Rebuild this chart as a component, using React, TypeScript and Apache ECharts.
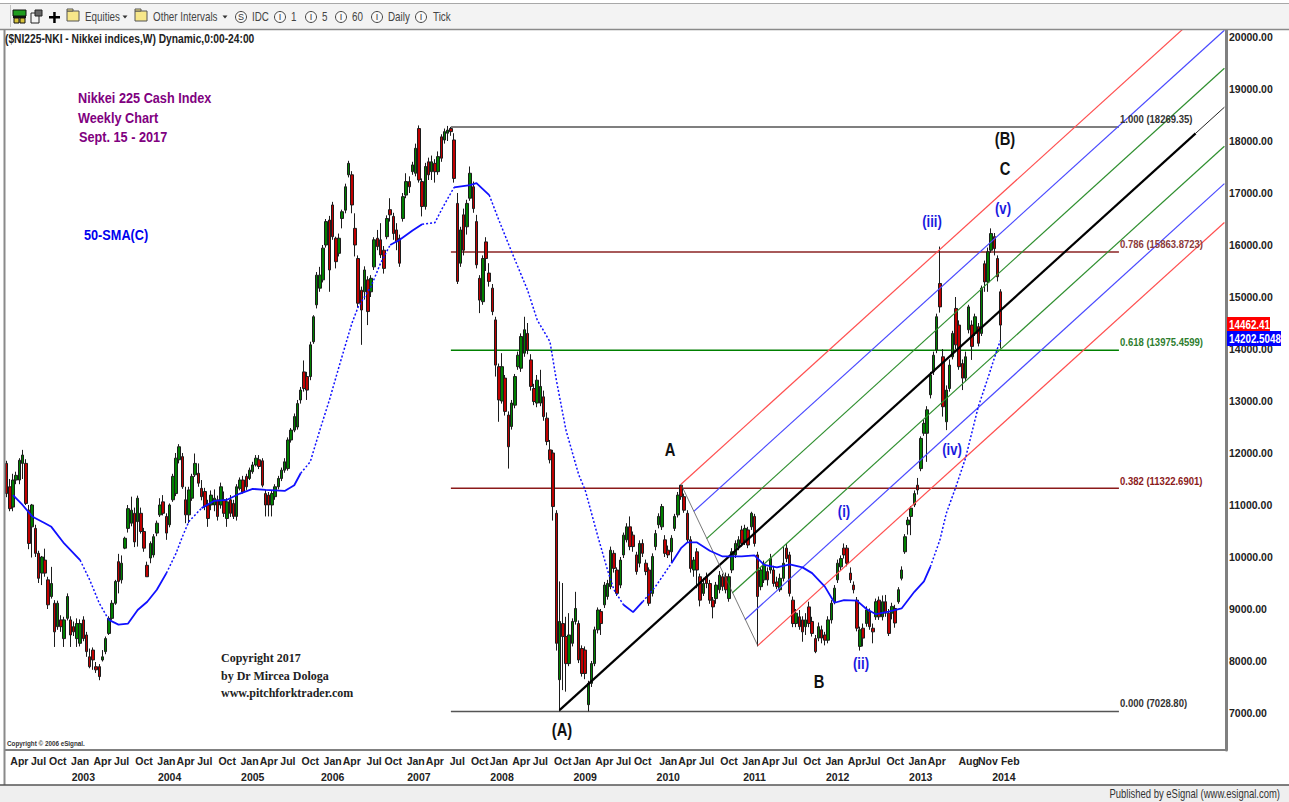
import React, { useEffect, useRef } from "react";
import * as echarts from "echarts";

const SANS = '"Liberation Sans", Arial, sans-serif';
const SERIF = '"Liberation Serif", serif';

// [open, close, low, high], one row per ten bars
const bars2002 = [
  [11800,11220,11150,11850],[11350,10930,10880,11500],[10960,11480,10880,11600],[11480,11570,11400,11640],[11480,11860,11400,11900],[11800,11960,11500,12060],[11800,11030,11000,11880],[10900,10260,10150,11000],[10580,11000,9990,11020],[10550,10070,10000,10620],
  [10070,9590,9500,10120],[9690,10000,9460,10020],[9940,9690,9620,10160],[9560,9080,9000,9620],[9240,9490,9200,9810],[9110,8560,8270,9170],[8660,9110,8600,9160],[8790,8660,8560,8880],[8430,8790,8270,8850],[8820,9240,8780,9300],
  [8790,8500,8270,8860],[8660,8560,8480,8760],[8430,8720,8270,8820],[8340,8720,8280,8800],[8790,8430,8380,8860],[8500,8180,8080,8560],[8080,7890,7860,8240],[8210,8020,7830,8260],[7890,7830,7770,7980],[7890,7700,7630,7940],
];
const bars2003 = [
  [8020,8080,7990,8210],[8180,8430,8130,8470],[8530,8820,8500,8860],[8820,9110,8790,9170],[9110,9530,9080,9560],[9910,9530,9300,10060],[9560,9880,9490,10030],[10170,10360,10150,10390],[10550,10930,10470,11000],[10650,10900,10590,11160],
  [10840,10290,10190,10950],[10680,11130,10200,11180],[10840,10490,10450,10950],[10490,10170,10100,10560],[9840,9620,9620,9910],[9980,10260,9880,10300],[10040,10390,9990,10440],[10460,10650,10400,10700],[10810,11000,10770,11130],[11060,10840,10800,11190],
];
const bars2004 = [
  [10780,10460,10330,10840],[10620,11000,10570,11030],[11100,11550,11060,11600],[11220,11900,11170,12000],[11870,12120,11800,12170],[11930,11350,11310,12000],[11100,10810,10650,11350],[10810,11290,10650,11350],[11130,11550,11080,11600],[11580,11800,11540,11990],
  [11610,11420,11350,11800],[11320,11160,11090,11480],[11260,10970,10900,11330],[11000,10740,10580,11100],[11000,11190,10900,11280],[11000,11130,10880,11300],[11100,10780,10700,11180],[11000,11350,10930,11430],[11100,10840,10770,11260],[10740,11060,10580,11130],
  [11100,10840,10770,11190],[11030,10780,10730,11100],[10780,11350,10700,11400],[11320,11480,11280,11530],[11480,11250,11220,11560],[11550,11350,11290,11600],[11510,11670,11480,11720],[11640,11770,11600,11830],[11770,11900,11740,11960],[11870,11740,11690,11960],
];
const bars2005 = [
  [11850,11380,11340,11900],[11220,11000,10780,11290],[11190,11000,10780,11250],[11000,11220,10780,11280],[11160,11350,11100,11400],[11350,11510,11300,11560],[11510,11670,11460,11720],[11670,11830,11620,11900],[11700,12250,11660,12300],[12250,12440,12200,12480],
  [12440,12700,12400,12760],[12500,12950,12450,13020],[13020,13210,12950,13270],[13560,13240,13180,13780],[13470,13210,13020,13560],[13470,14080,13400,14140],[14140,14620,14100,14650],[14850,15420,14780,15480],[15170,15420,15100,15580],[15330,15940,15280,16000],
  [16000,16450,15950,16500],[16480,15520,15100,16560],[16770,16160,16100,16830],[16130,15680,15550,16160],[15840,16130,15780,16220],[16510,16640,16320,16680],[16670,17120,16610,17180],[17350,17570,17300,17620],[17350,16770,16610,17420],[16320,16000,15780,16610],
];
const bars2006 = [
  [15740,14880,14800,15800],[15130,14750,14080,15200],[15100,15520,14950,15590],[15330,14720,14460,15400],[15100,15360,15000,15420],[15580,16100,15520,16150],[16130,15970,15900,16290],[16100,15810,15750,16420],[15900,15550,15450,15980],[16160,16510,16110,16570],
  [16680,16580,16450,16900],[16550,16220,16100,16620],[16290,16060,15900,16420],[16130,15650,15580,16200],[16510,16930,16450,17000],[16960,17220,16900,17380],[17220,17120,17000,17320],[17410,17540,17350,17600],[17380,17860,17320,17950],[18240,17250,17200,18300],
];
const bars2007 = [
  [17220,16740,16550,17280],[16740,17510,16680,17580],[17600,17350,17250,17680],[17410,17600,17250,17720],[17570,17410,17200,17650],[17410,17700,17350,17800],[18080,17670,17600,18130],[18020,18180,17950,18240],[18150,18210,18000,18290],[18240,18180,18100,18270],
  [18020,17280,17200,18150],[16800,15300,15250,17000],[15650,16290,15580,16350],[16580,15900,15800,16700],[16350,16800,16200,16870],[16900,17380,16850,17510],[17120,16700,16620,17220],[16450,15620,15550,16580],[15360,14940,14690,15420],[14910,15740,14850,15800],
];
const bars2008 = [
  [16060,15740,15500,16150],[15460,15300,15200,15650],[15170,14720,14650,15250],[14560,13690,13470,14620],[13660,13020,12600,13720],[13000,13660,12950,13920],[13440,12800,12720,13500],[12730,12120,11700,12800],[12510,12960,12450,13020],[12920,13470,12860,13520],
  [13660,13880,13600,13950],[13630,14240,13560,14300],[13920,14370,13850,14620],[14300,13980,13900,14500],[13790,13280,13200,13900],[13240,12990,12920,13330],[12960,13400,12880,13500],[12960,13280,12900,13600],[13080,12700,12620,13200],[12670,12220,12150,12780],
  [12060,11870,11800,12250],[12000,10970,10700,12060],[10840,8340,8200,10900],[7640,8760,7030,9530],[8720,8470,7440,9500],[8470,7950,7410,8850],[7950,8500,7900,8920],[8340,8760,8280,8820],[8760,9010,8700,9330],[8720,8020,7960,8780],
];
const bars2009 = [
  [8240,7760,7700,8300],[8210,7760,7650,8280],[7160,7570,7030,7620],[7570,7950,7500,8000],[7950,8600,7900,8660],[8600,8980,8530,9030],[8950,8720,8500,9000],[9080,9460,9020,9520],[9240,9490,9180,9560],[9430,10130,9380,10200],
  [10070,9780,9700,10130],[9750,9300,9250,9800],[9460,9940,9400,10000],[10040,10420,9980,10470],[10330,10580,10280,10650],[10580,10200,10130,10780],[10420,10200,10100,10490],[10040,9720,9660,10100],[9880,10260,9800,10320],[10260,10070,10000,10340],
  [9880,9720,9650,9950],[9750,9110,9060,9800],[9300,10010,9240,10070],[10200,10450,10130,10520],[10620,10780,10550,10840],[10580,10970,10520,11020],[10330,10070,10000,10420],[10130,10040,9980,10220],[10100,10360,9900,10420],[10550,10780,10500,10830],
];
const bars2010 = [
  [10810,11190,10760,11250],[11380,11160,11100,11390],[11160,10900,10850,11220],[10840,10330,10270,10900],[10330,9780,9700,10400],[9750,9940,9620,10000],[10100,9750,9400,10170],[9620,9170,9050,9680],[9300,9490,9250,9600],[9620,9490,9400,9700],
  [9490,9170,9100,9560],[9170,9040,8820,9230],[9200,9460,9100,9520],[9370,9650,9300,9730],[9620,9430,9350,9680],[9620,9370,9300,9700],[9200,9620,9140,9680],[9750,10100,9690,10170],[10040,10260,9980,10320],[10200,10330,10130,10400],
];
const bars2011 = [
  [10520,10260,10200,10600],[10330,10550,10230,10620],[10520,10230,10170,10580],[10580,10840,10520,10870],[10780,10260,10200,10830],[10040,9240,8280,10100],[9430,9750,9360,9800],[9560,9850,9500,9930],[9720,9560,9450,9800],[9750,9970,9680,10060],
  [9750,9490,9430,9830],[9520,9430,9380,9620],[9370,9590,9330,9680],[9590,9880,9530,10200],[10170,9970,9900,10260],[10040,9300,9240,10100],[9170,8720,8650,9240],[8720,8920,8650,9000],[8850,8660,8600,8980],[8790,8560,8370,8860],
  [8660,8790,8500,8920],[9040,8720,8650,9140],[8760,8530,8470,8850],[8430,8180,8150,8500],[8440,8660,8380,8740],[8600,8440,8340,8680],[8500,8400,8300,8560],[8400,8790,8340,8860],[8790,9110,8720,9170],[9140,9400,9090,9460],
];
const bars2012 = [
  [9560,9880,9500,9950],[9810,9970,9750,10030],[10170,10040,9970,10260],[10170,9880,9820,10230],[9690,9560,9500,9800],[9460,9370,9300,9530],[9170,8630,8570,9230],[8280,8600,8200,8660],[8630,8440,8280,8720],[8720,8980,8660,9050],
  [8950,8660,8600,9010],[8630,8560,8340,8720],[8850,9140,8790,9200],[9170,8850,8790,9240],[8850,9140,8780,9260],[9140,8920,8850,9270],[8920,8530,8480,9000],[8920,9050,8800,9120],[9010,8730,8640,9080],[9140,9370,9100,9420],
  [9590,9750,9550,9820],[10100,10390,10060,10440],[10620,10710,10430,10770],[10780,10940,10420,10980],[11000,11220,10960,11280],
];
const bars2013 = [
  [11380,11290,11200,11520],[11700,12280,11650,12320],[12380,12570,12330,12640],[12380,12830,11830,12900],[13120,13500,13050,13560],[13560,13880,13500,13950],[13980,14620,13920,14680],[15260,14810,14700,15970],[13850,12890,12700,14000],[12600,13210,12440,13300],
  [13240,13690,13180,13800],[13850,14300,13800,14350],[14780,14080,14000,15000],[14460,13660,13600,14550],[13720,13440,13210,13800],[13440,13850,13380,13950],[14370,14810,14300,14850],[14460,14050,13790,14550],[14300,14620,14250,14680],[14430,14110,14050,14500],
  [14300,15170,14250,15220],[15640,15290,15100,15700],[15290,15870,15100,15950],[15900,16220,15850,16320],[16160,15930,15800,16230],[15740,15390,15300,15800],[15100,14460,14010,15150],
];
const bars = [...bars2002, ...bars2003, ...bars2004, ...bars2005, ...bars2006, ...bars2007, ...bars2008, ...bars2009, ...bars2010, ...bars2011, ...bars2012, ...bars2013];

// 50-period moving average, read at its visible vertices
const smaBar = [2,5,8,12,14,18,23,26,29,32, 35,38,41,44,47,50,53,55,57,61, 65,69,73,77,81,87,90,92,95,98, 101,104,108,110,114,117,120,123,127,130, 134,136,140,145,147,151,154,158,163,166, 170,172,175,179,181,185,188,190,193,196, 199,203,208,211,213,216,220,224,230,234, 237,241,245,249,252,256,259,262,266,269, 272,276,280,284,287,289,292,294,297,300, 304,307,310,311];
const smaValue = [11190,11000,10780,10650,10580,10260,9940,9560,9110,8790, 8700,8720,8980,9140,9370,9690,10070,10390,10680,10940, 11080,11100,11220,11310,11290,11270,11380,11610,11830,12440, 13020,13660,14490,14810,15200,15650,16000,16100,16280,16400, 16430,16670,17110,17150,17190,16960,16480,15870,15130,14560, 14140,13400,12440,11580,11290,10390,9750,9370,9080,8940, 9140,9430,9880,10170,10280,10280,10120,10010,10010,10030, 9850,9800,9860,9800,9690,9430,9120,9170,9160,9000, 8900,8950,9010,9330,9530,9810,10330,10840,11350,11900, 12890,13440,14010,14170];
const smaRuns: [number, number, string][] = [[2,23,"solid"],[23,32,"dotted"],[32,50,"solid"],[50,61,"dotted"],[61,92,"solid"],[92,120,"dotted"],[120,130,"solid"],[130,140,"dotted"],[140,151,"solid"],[151,193,"dotted"],[193,199,"solid"],[199,208,"dotted"],[208,289,"solid"],[289,311,"dotted"]];

const slotCount = 382;
const firstBarDate = Date.UTC(2002, 1, 11);
const categories = Array.from({ length: slotCount }, (_, i) => new Date(firstBarDate + i * 14 * 86400000).toISOString().slice(0, 10));

const monthBars = [4,10,16, 23,30,36,43, 50,56,62,69, 76,82,88,95, 102,108,115,121, 128,134,141,148, 154,161,167,174, 180,187,193,199, 207,213,219,226, 233,239,245,252, 259,266,271,278, 285,291,301,307,314];
const monthNames = ["Apr","Jul","Oct", "Jan","Apr","Jul","Oct", "Jan","Apr","Jul","Oct", "Jan","Apr","Jul","Oct", "Jan","Apr","Jul","Oct", "Jan","Apr","Jul","Oct", "Jan","Apr","Jul","Oct", "Jan","Apr","Jul","Oct", "Jan","Apr","Jul","Oct", "Jan","Apr","Jul","Oct", "Jan","Apr","Jul","Oct", "Jan","Apr","Aug","Nov","Feb"];
const yearBars = [24,51,77,102,129,155,181,207,234,260,286,312];
const yearNames = ["2003","2004","2005","2006","2007","2008","2009","2010","2011","2012","2013","2014"];
const priceTicks = [7000,8000,9000,10000,11000,12000,13000,14000,15000,16000,17000,18000,19000,20000];

// Fibonacci retracement levels
const fibRatios = ["1.000","0.786","0.618","0.382","0.000"];
const fibLevels = [18269.35,15863.8723,13975.4599,11322.6901,7028.8];
const fibValueText = ["18269.35","15863.8723","13975.4599","11322.6901","7028.80"];
const fibLine = ["#7f7f7f","#a85a5a","#008000","#8b1a1a","#555555"];
const fibText = ["#333333","#8b3a3a","#2e7d2e","#8b1a1a","#333333"];
const fibWidth = [2,2,1.5,1.5,1.5];
const fibLabelY = [119,244,342,481,703];
const fibFromBar = 139;
const fibToBar = 348;

// Andrews pitchfork tines: [bar, value, bar, value]
const forkTines = [
  { name: "upper warning", seg: [211,11398,381,20877], color: "#ff5050", width: 1.2 },
  { name: "upper 2", seg: [215,10877,381,20129], color: "#4a4aff", width: 1.2 },
  { name: "upper 1", seg: [219,10354,381,19400], color: "#2f8f2f", width: 1.2 },
  { name: "median", seg: [173,7055,372,18148], color: "#000000", width: 2.2 },
  { name: "median ext", seg: [372,18148,381,18650], color: "#222222", width: 1 },
  { name: "lower 1", seg: [227,9308,381,17900], color: "#2f8f2f", width: 1.2 },
  { name: "lower 2", seg: [231,8794,381,17180], color: "#4a4aff", width: 1.2 },
  { name: "lower warning", seg: [235,8296,381,16434], color: "#ff5050", width: 1.2 },
  { name: "handle", seg: [211,11398,235,8296], color: "#555555", width: 0.8 },
];

const lastClose = "14462.41";
const lastSma = "14202.5048";

function txt(text: string, x: number, y: number, o: any = {}) {
  const sx = o.scale ?? (o.font === SERIF ? 1 : 0.82);
  return {
    type: "text", x, y, z: o.z ?? 50, silent: true, scaleX: sx,
    style: {
      text, fill: o.fill ?? "#222", fontFamily: o.font ?? SANS, fontSize: o.size ?? 12,
      fontWeight: o.weight ?? "normal", align: o.align ?? "left", verticalAlign: "middle",
    },
  };
}
const box = (x: number, y: number, w: number, h: number, fill: string, stroke?: string, z = 40) => ({
  type: "rect", z, silent: true, shape: { x, y, width: w, height: h },
  style: { fill, stroke: stroke ?? undefined, lineWidth: stroke ? 1 : 0 },
});
const ln = (x1: number, y1: number, x2: number, y2: number, stroke: string, lineWidth = 1, z = 41) => ({
  type: "line", z, silent: true, shape: { x1, y1, x2, y2 }, style: { stroke, lineWidth },
});
const folder = (x: number) => [box(x, 11, 12, 10, "#f7e78a", "#555"), box(x, 9, 6, 2, "#f7e78a", "#555")];
const ring = (cx: number, letter: string) => [
  { type: "circle", z: 41, silent: true, shape: { cx, cy: 17, r: 5.5 }, style: { fill: "#fafafa", stroke: "#444", lineWidth: 1 } },
  txt(letter, cx, 17, { size: 9, align: "center", fill: "#333", scale: 1 }),
];
const caret = (cx: number) => ({ type: "polygon", z: 41, silent: true, shape: { points: [[cx - 2.5, 15.5], [cx + 2.5, 15.5], [cx, 18.5]] }, style: { fill: "#333" } });

const toolbar = [
  box(0, 3, 1289, 26.5, "#f3f3f3"),
  ln(0, 3.5, 1289, 3.5, "#a8a8a8"),
  ln(0, 29.5, 1289, 29.5, "#8a8a8a", 1.5),
  ln(10.5, 5, 10.5, 27, "#c4c4c4"),
  box(13, 10, 13, 6, "#1f9c1f", "#111"),
  box(13, 16, 13, 2, "#111"),
  box(14, 18, 5, 5, "#d6c23a", "#111"),
  box(20, 18, 5, 5, "#d6c23a", "#111"),
  box(31, 13, 8, 10, "#f4f4f4", "#222"),
  box(35, 10, 7, 6, "#666", "#222"),
  box(49, 16, 11, 2.5, "#000"),
  box(53.2, 12, 2.5, 11, "#000"),
  ...folder(67),
  txt("Equities", 85, 17, { size: 12, fill: "#444" }),
  caret(125),
  ...folder(135),
  txt("Other Intervals", 153, 17, { size: 12, fill: "#444" }),
  caret(225),
  ...ring(241, "S"), txt("IDC", 252, 17, { size: 12, fill: "#444" }),
  ...ring(280, "I"), txt("1", 291, 17, { size: 12, fill: "#444" }),
  ...ring(311, "I"), txt("5", 322, 17, { size: 12, fill: "#444" }),
  ...ring(341, "I"), txt("60", 352, 17, { size: 12, fill: "#444" }),
  ...ring(377, "I"), txt("Daily", 388, 17, { size: 12, fill: "#444" }),
  ...ring(421, "I"), txt("Tick", 433, 17, { size: 12, fill: "#444" }),
];

const annotations = [
  txt("($NI225-NKI - Nikkei indices,W) Dynamic,0:00-24:00", 5, 39, { weight: "bold", size: 12.5, fill: "#222" }),
  txt("Nikkei 225 Cash Index", 78, 98, { weight: "bold", size: 15.5, fill: "#800080" }),
  txt("Weekly Chart", 78, 118, { weight: "bold", size: 15.5, fill: "#800080" }),
  txt("Sept. 15 - 2017", 79, 137, { weight: "bold", size: 15.5, fill: "#800080" }),
  txt("50-SMA(C)", 84, 235, { weight: "bold", size: 15.5, fill: "#0000ee" }),
  txt("Copyright 2017", 221, 658, { font: SERIF, weight: "bold", size: 12, fill: "#222" }),
  txt("by Dr Mircea Dologa", 221, 676, { font: SERIF, weight: "bold", size: 12, fill: "#222" }),
  txt("www.pitchforktrader.com", 221, 693, { font: SERIF, weight: "bold", size: 12, fill: "#222" }),
  txt("Copyright © 2006 eSignal.", 7, 743, { size: 8, fill: "#333", weight: "bold", scale: 0.79 }),
  txt("A", 670, 449, { weight: "bold", size: 18, align: "center", fill: "#111" }),
  txt("B", 819, 681, { weight: "bold", size: 18, align: "center", fill: "#111" }),
  txt("C", 1005, 168, { weight: "bold", size: 18, align: "center", fill: "#111" }),
  txt("(A)", 562, 729, { weight: "bold", size: 18, align: "center", fill: "#111" }),
  txt("(B)", 1005, 138, { weight: "bold", size: 18, align: "center", fill: "#111" }),
  txt("(i)", 844, 512, { weight: "bold", size: 16, align: "center", fill: "#1a1ae0" }),
  txt("(ii)", 861, 664, { weight: "bold", size: 16, align: "center", fill: "#1a1ae0" }),
  txt("(iii)", 932, 222, { weight: "bold", size: 16, align: "center", fill: "#1a1ae0" }),
  txt("(iv)", 952, 450, { weight: "bold", size: 16, align: "center", fill: "#1a1ae0" }),
  txt("(v)", 1003, 209, { weight: "bold", size: 16, align: "center", fill: "#1a1ae0" }),
  ...fibRatios.map((r, k) =>
    txt(`${r} (${fibValueText[k]})`, 1120, fibLabelY[k], { weight: "bold", size: 11.6, fill: fibText[k] })),
];

const frame = [
  ln(4.5, 30, 4.5, 785, "#8a8a8a", 2),
  box(0, 785, 1289, 17, "#efefef", undefined, 38),
  ln(0, 785, 1289, 785, "#555555", 1.5),
  txt("Published by eSignal (www.esignal.com)", 1280, 794, { align: "right", size: 12, fill: "#333", scale: 0.79 }),
  box(1227, 317, 43, 15, "#ff0000", undefined, 60),
  txt(lastClose, 1229, 325, { fill: "#fff", weight: "bold", size: 12, z: 61 }),
  box(1227, 331, 54, 15, "#0000ff", undefined, 62),
  txt(lastSma, 1229, 339, { fill: "#fff", weight: "bold", size: 12, z: 63 }),
];

export default function App() {
  const ref = useRef<HTMLDivElement>(null);
  useEffect(() => {
    document.body.style.margin = "0";
    const chart = echarts.init(ref.current!, null, { renderer: "svg" });
    const pts = smaBar.map((b, k) => [b, smaValue[k]]);
    const axisFont = { fontFamily: SANS, fontWeight: "bold" as const, fontSize: 10.5, color: "#222" };
    chart.setOption({
      animation: false,
      backgroundColor: "#ffffff",
      grid: { left: 5, top: 30, width: 1221, height: 720, containLabel: false },
      xAxis: [
        {
          type: "category", data: categories, position: "bottom",
          axisLine: { show: true, onZero: false, lineStyle: { color: "#808080", width: 2 } },
          axisTick: { show: false }, splitLine: { show: false },
          axisLabel: {
            ...axisFont, margin: 5,
            interval: (i: number) => monthBars.includes(i),
            formatter: (_: string, i: number) => monthNames[monthBars.indexOf(i)] ?? "",
          },
        },
        {
          type: "category", data: categories, position: "bottom", offset: 16,
          axisLine: { show: false }, axisTick: { show: false }, splitLine: { show: false },
          axisLabel: {
            ...axisFont, margin: 5,
            interval: (i: number) => yearBars.includes(i),
            formatter: (_: string, i: number) => yearNames[yearBars.indexOf(i)] ?? "",
          },
        },
      ],
      yAxis: {
        type: "value", position: "right", min: 6288, max: 20135, scale: true,
        axisLine: { show: true, onZero: false, lineStyle: { color: "#808080", width: 3 } },
        axisTick: { show: false, customValues: priceTicks }, splitLine: { show: false },
        axisLabel: { ...axisFont, margin: 3, customValues: priceTicks, formatter: (v: number) => v.toFixed(2) },
      },
      series: [
        ...fibLevels.map((lv, k) => ({
          type: "line", name: "Fib " + fibRatios[k], silent: true, symbol: "none", z: 2,
          data: [[fibFromBar, lv], [fibToBar, lv]],
          lineStyle: { color: fibLine[k], width: fibWidth[k] },
        })),
        {
          type: "candlestick", name: "$NI225-NKI", data: bars, barWidth: 3, z: 3, silent: true,
          itemStyle: { color: "#008000", color0: "#c00000", borderColor: "#1c1c1c", borderColor0: "#1c1c1c", borderWidth: 1 },
        },
        ...forkTines.map((t) => ({
          type: "line", name: t.name, silent: true, symbol: "none", z: 4,
          data: [[t.seg[0], t.seg[1]], [t.seg[2], t.seg[3]]],
          lineStyle: { color: t.color, width: t.width },
        })),
        ...smaRuns.map(([a, b, style]) => ({
          type: "line", name: "50-SMA", silent: true, symbol: "none", z: 5,
          data: pts.filter((p) => p[0] >= a && p[0] <= b),
          lineStyle: { color: "#1010ff", width: style === "dotted" ? 1.5 : 1.8, type: style === "dotted" ? [2, 2] : "solid" },
        })),
      ],
      graphic: { elements: [...toolbar, ...frame, ...annotations] },
    });
    return () => chart.dispose();
  }, []);
  return <div ref={ref} style={{ position: "absolute", left: 0, top: 0, width: 1289, height: 802, overflow: "hidden" }} />;
}
